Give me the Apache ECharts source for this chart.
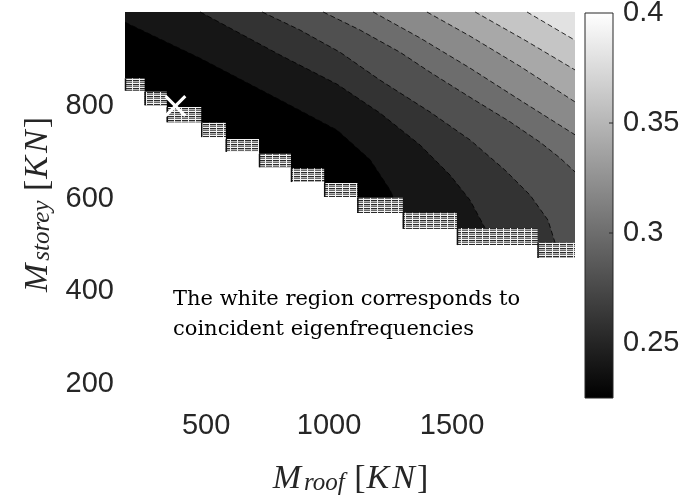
<!DOCTYPE html>
<html>
<head>
<meta charset="utf-8">
<script src="https://cdn.jsdelivr.net/npm/echarts@6/dist/echarts.min.js"></script>
<style>
  html, body { margin: 0; padding: 0; background: #fff; }
  #chart { width: 684px; height: 497px; }
</style>
</head>
<body>
<div id="chart"></div>
<script>
// axis ranges (KN) and colour range
const xRange = [170, 2000];
const yRange = [170, 1003];
const cRange = [0.225, 0.4];
const xTicks = [500, 1000, 1500];
const yTicks = [200, 400, 600, 800];
const cTicks = [0.25, 0.3, 0.35, 0.4];
const cMinorTicks = [0.25, 0.3, 0.35];

// contour levels and the line of each level [M_roof, M_storey]
const levels = [0.24, 0.26, 0.28, 0.30, 0.32, 0.34, 0.36, 0.38];
const contours = [
  [[170, 981], [476, 903], [801, 813], [1033, 748], [1167, 684], [1248, 619], [1289, 569]],
  [[476, 1003], [801, 910], [1033, 847], [1207, 785], [1370, 716], [1492, 651], [1573, 597], [1634, 537]],
  [[728, 1003], [882, 964], [1045, 916], [1207, 856], [1411, 787], [1573, 727], [1715, 662], [1817, 608], [1890, 554], [1919, 505]],
  [[976, 1003], [1126, 964], [1289, 916], [1411, 873], [1573, 819], [1736, 766], [1858, 722], [1939, 688], [2000, 658]],
  [[1179, 1003], [1370, 947], [1573, 882], [1776, 813], [2000, 738]],
  [[1398, 1003], [1573, 951], [1776, 886], [2000, 809]],
  [[1594, 1003], [1797, 942], [2000, 878]],
  [[1805, 1003], [2000, 942]]
];

// stepped edge of the white region (coincident eigenfrequencies)
const stepX0 = [170, 250, 340, 480, 580, 715, 845, 980, 1115, 1300, 1520, 1848];
const stepX1 = [250, 340, 480, 580, 715, 845, 980, 1115, 1300, 1520, 1848, 2000];
const stepTop = [860, 831, 798, 764, 729, 697, 666, 634, 602, 570, 537, 505];
const stepBottom = [833, 802, 765, 733, 701, 668, 636, 604, 569, 535, 500, 472];

// chosen design point
const marker = [[375, 800]];

const bandValues = [cRange[0]].concat(levels);

function gray(v) {
  const t = Math.max(0, Math.min(1, (v - cRange[0]) / (cRange[1] - cRange[0])));
  const c = Math.round(t * 255);
  return 'rgb(' + c + ',' + c + ',' + c + ')';
}

// region on the high side of a contour line, closed along the plot border
function regionAbove(line) {
  const pts = line.slice();
  const first = pts[0], last = pts[pts.length - 1];
  if (last[0] < xRange[1]) pts.push([last[0], yRange[0]], [xRange[1], yRange[0]]);
  pts.push([xRange[1], yRange[1]]);
  if (first[1] < yRange[1]) pts.push([xRange[0], yRange[1]]);
  return pts;
}

// striped fill for the ragged edge
const pat = document.createElement('canvas');
pat.width = 7; pat.height = 4;
const pg = pat.getContext('2d');
pg.fillStyle = '#f2f2f2'; pg.fillRect(0, 0, 7, 4);
pg.fillStyle = '#2a2a2a'; pg.fillRect(0, 0, 6, 1);
pg.fillStyle = '#b0b0b0'; pg.fillRect(0, 1, 6, 1);
pg.fillStyle = '#6a6a6a'; pg.fillRect(0, 2, 6, 1);

const tickFont = { fontFamily: 'Liberation Sans', fontSize: 29, color: '#262626' };
const serifIt = { fontFamily: 'Liberation Serif', fontStyle: 'italic', color: '#262626', verticalAlign: 'bottom' };
const nameRich = {
  it: Object.assign({ fontSize: 34, lineHeight: 40, padding: [0, 2, 0, 1] }, serifIt),
  sub: Object.assign({ fontSize: 25, lineHeight: 18, padding: [0, 1, 0, 1] }, serifIt),
  rm: { fontFamily: 'Liberation Serif', fontSize: 34, color: '#262626', lineHeight: 40, verticalAlign: 'bottom' }
};
const nameOf = sub => '{it|M}{sub|' + sub + '}{rm| [}{it|K}{it|N}{rm|]}';

const chart = echarts.init(document.getElementById('chart'));

const option = {
  animation: false,
  grid: [
    { left: 125, top: 12, width: 450, height: 386, outerBoundsMode: 'none', containLabel: false },
    { left: 585, top: 13, width: 28, height: 385, outerBoundsMode: 'none', containLabel: false }
  ],
  xAxis: [
    {
      type: 'value', gridIndex: 0, min: xRange[0], max: xRange[1],
      axisLine: { show: false }, axisTick: { show: false }, splitLine: { show: false },
      axisLabel: Object.assign({ customValues: xTicks, margin: 13, formatter: v => String(v) }, tickFont),
      name: nameOf('roof'),
      nameLocation: 'middle', nameGap: 58,
      nameTextStyle: { rich: nameRich }
    },
    { type: 'value', gridIndex: 1, min: 0, max: 1, show: false }
  ],
  yAxis: [
    {
      type: 'value', gridIndex: 0, min: yRange[0], max: yRange[1],
      axisLine: { show: false }, axisTick: { show: false }, splitLine: { show: false },
      axisLabel: Object.assign({ customValues: yTicks, margin: 11, formatter: v => String(v) }, tickFont),
      name: nameOf('storey'),
      nameLocation: 'middle', nameGap: 68,
      nameTextStyle: { rich: nameRich }
    },
    {
      type: 'value', gridIndex: 1, position: 'right', min: cRange[0], max: cRange[1],
      axisLine: { show: false, onZero: false }, splitLine: { show: false }, axisTick: { show: false },
      axisLabel: Object.assign({ customValues: cTicks, margin: 10, formatter: v => String(parseFloat(v.toFixed(3))) }, tickFont)
    }
  ],
  series: [
    {
      name: 'bands', type: 'custom', xAxisIndex: 0, yAxisIndex: 0, z: 1, silent: true,
      data: bandValues.map(v => [v]),
      renderItem: (params, api) => {
        const i = params.dataIndex;
        const pts = i === 0
          ? [[xRange[0], yRange[0]], [xRange[1], yRange[0]], [xRange[1], yRange[1]], [xRange[0], yRange[1]]]
          : regionAbove(contours[i - 1]);
        return { type: 'polygon', shape: { points: pts.map(p => api.coord(p)) }, style: { fill: gray(bandValues[i]) } };
      }
    },
    {
      name: 'contour lines', type: 'custom', xAxisIndex: 0, yAxisIndex: 0, z: 2, silent: true,
      data: levels.map(v => [v]),
      renderItem: (params, api) => ({
        type: 'polyline',
        shape: { points: contours[params.dataIndex].map(p => api.coord(p)) },
        style: { stroke: '#000', lineWidth: 0.8, lineDash: [5, 3], fill: null }
      })
    },
    {
      name: 'white region', type: 'custom', xAxisIndex: 0, yAxisIndex: 0, z: 3, silent: true,
      data: [[xRange[0], yRange[0]]],
      renderItem: (params, api) => {
        const pts = [];
        for (let i = 0; i < stepX0.length; i++) pts.push([stepX0[i], stepBottom[i]], [stepX1[i], stepBottom[i]]);
        pts.push([xRange[1], yRange[0]], [xRange[0], yRange[0]]);
        return { type: 'polygon', shape: { points: pts.map(p => api.coord(p)) }, style: { fill: '#fff' } };
      }
    },
    {
      name: 'edge', type: 'custom', xAxisIndex: 0, yAxisIndex: 0, z: 4, silent: true,
      data: stepX0.map((x, i) => [x, stepTop[i]]),
      renderItem: (params, api) => {
        const i = params.dataIndex;
        const a = api.coord([stepX0[i], stepTop[i]]);
        const b = api.coord([stepX1[i], stepBottom[i]]);
        return {
          type: 'group',
          children: [
            { type: 'rect', shape: { x: a[0], y: a[1], width: b[0] - a[0], height: b[1] - a[1] }, style: { fill: { image: pat, repeat: 'repeat' } } },
            { type: 'line', shape: { x1: a[0] + 0.5, y1: a[1], x2: a[0] + 0.5, y2: b[1] }, style: { stroke: '#111', lineWidth: 1.5 } }
          ]
        };
      }
    },
    {
      name: 'design point', type: 'scatter', xAxisIndex: 0, yAxisIndex: 0, z: 6, silent: true,
      data: marker,
      symbol: 'path://M2,0 L10,8 L18,0 L20,2 L12,10 L20,18 L18,20 L10,12 L2,20 L0,18 L8,10 L0,2 Z',
      symbolSize: 22,
      itemStyle: { color: '#fff', opacity: 1 }
    },
    {
      name: 'colorbar', type: 'custom', xAxisIndex: 1, yAxisIndex: 1, z: 1, silent: true,
      data: [[0, cRange[0]]],
      renderItem: (params, api) => {
        const a = api.coord([0, cRange[1]]);
        const b = api.coord([1, cRange[0]]);
        const ticks = cMinorTicks.map(v => {
          const p = api.coord([1, v]);
          return { type: 'line', shape: { x1: p[0], y1: p[1], x2: p[0] - 4, y2: p[1] }, style: { stroke: '#262626', lineWidth: 1 } };
        });
        return {
          type: 'group',
          children: [{
            type: 'rect',
            shape: { x: a[0], y: a[1], width: b[0] - a[0], height: b[1] - a[1] },
            style: {
              fill: new echarts.graphic.LinearGradient(0, 0, 0, 1, [
                { offset: 0, color: gray(cRange[1]) }, { offset: 1, color: gray(cRange[0]) }
              ]),
              stroke: '#262626', lineWidth: 1
            }
          }].concat(ticks)
        };
      }
    }
  ],
  graphic: [
    {
      type: 'text', left: 173, top: 285, z: 10,
      style: {
        text: 'The white region corresponds to\ncoincident eigenfrequencies',
        font: '21px "DejaVu Serif"', fill: '#000', lineHeight: 30
      }
    }
  ]
};

chart.setOption(option);
</script>
</body>
</html>
